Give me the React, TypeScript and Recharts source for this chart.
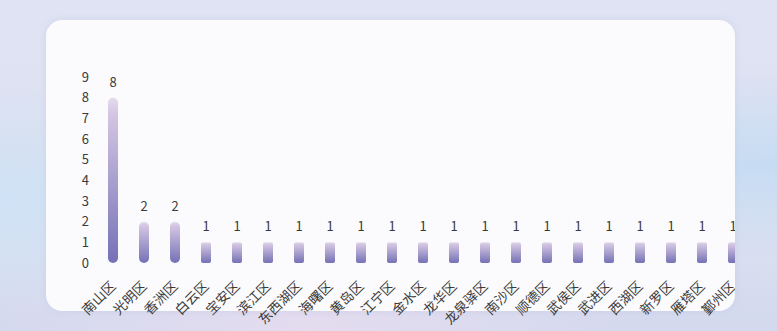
import React from 'react';
import { BarChart, Bar, XAxis, YAxis, LabelList } from 'recharts';

const districts = [
  '南山区', '光明区', '香洲区', '白云区', '宝安区', '滨江区', '东西湖区',
  '海曙区', '黄岛区', '江宁区', '金水区', '龙华区', '龙泉驿区', '南沙区',
  '顺德区', '武侯区', '武进区', '西湖区', '新罗区', '雁塔区', '鄞州区',
];
const counts = [8, 2, 2, 1, 1, 1, 1, 1, 1, 1, 1, 1, 1, 1, 1, 1, 1, 1, 1, 1, 1];
const yTicks = [0, 1, 2, 3, 4, 5, 6, 7, 8, 9];

const data = districts.map((name, i) => ({ name, value: counts[i] }));

const FONT = '"Noto Sans CJK SC", "Noto Sans", sans-serif';

// rotated category label, anchored at its end under the tick
function DistrictTick(props: any) {
  const { x, y, payload } = props;
  const ax = x + 4;
  const ay = y + 16;
  return (
    <text
      x={ax}
      y={ay}
      transform={`rotate(-45, ${ax}, ${ay})`}
      textAnchor="end"
      fontSize={13.5}
      fill="#3a3a3a"
      fontFamily={FONT}
    >
      {payload.value}
    </text>
  );
}

// bar with rounded ends, small radius on short bars
function PillBar(props: any) {
  const { x, y, width, height } = props;
  if (!height || height <= 0) return null;
  const r = height > 30 ? width / 2 : 2;
  return <rect x={x} y={y} width={width} height={height} rx={r} ry={r} fill="url(#barGrad)" />;
}

export default function App() {
  return (
    <div
      style={{
        position: 'fixed',
        left: 0,
        top: 0,
        width: 777,
        height: 331,
        overflow: 'hidden',
        background:
          'radial-gradient(ellipse at 0% 60%, #cfe2f5 0%, rgba(207,226,245,0) 40%), radial-gradient(ellipse at 100% 50%, #c6dcf3 0%, rgba(198,220,243,0) 40%), radial-gradient(ellipse at 40% 100%, #e4dcef 0%, rgba(228,220,239,0) 50%), linear-gradient(180deg, #dfe3f3 0%, #dde1f1 60%, #d3d9ee 100%)',
        fontFamily: FONT,
      }}
    >
      <div
        style={{
          position: 'absolute',
          left: 46,
          top: 20,
          width: 689,
          height: 291,
          borderRadius: 16,
          background: '#fbfbfd',
          boxShadow: '0 0 6px rgba(180,190,220,0.35)',
        }}
      />
      <div
        style={{
          position: 'absolute',
          left: 46,
          top: 20,
          width: 689,
          height: 321,
          clipPath: 'inset(-60px 0px -60px -60px)',
        }}
      >
        <BarChart
          width={702}
          height={321}
          data={data}
          margin={{ top: 57, right: 0, left: 20, bottom: 0 }}
          barSize={10}
        >
          <defs>
            <linearGradient id="barGrad" x1="0" y1="0" x2="0" y2="1">
              <stop offset="0%" stopColor="#e6dcee" />
              <stop offset="10%" stopColor="#d3c5e2" />
              <stop offset="100%" stopColor="#7471b6" />
            </linearGradient>
          </defs>
          <XAxis
            dataKey="name"
            interval={0}
            axisLine={false}
            tickLine={false}
            height={78}
            tick={<DistrictTick />}
          />
          <YAxis
            width={31}
            domain={[0, 9]}
            ticks={yTicks}
            interval={0}
            axisLine={false}
            tickLine={false}
            tick={{ fill: '#3a3a3a', fontSize: 13, fontFamily: FONT }}
          />
          <Bar dataKey="value" shape={<PillBar />} isAnimationActive={false}>
            <LabelList
              dataKey="value"
              position="top"
              offset={11}
              fill="#3a3a3a"
              fontSize={13}
              fontFamily={FONT}
            />
          </Bar>
        </BarChart>
      </div>
    </div>
  );
}
